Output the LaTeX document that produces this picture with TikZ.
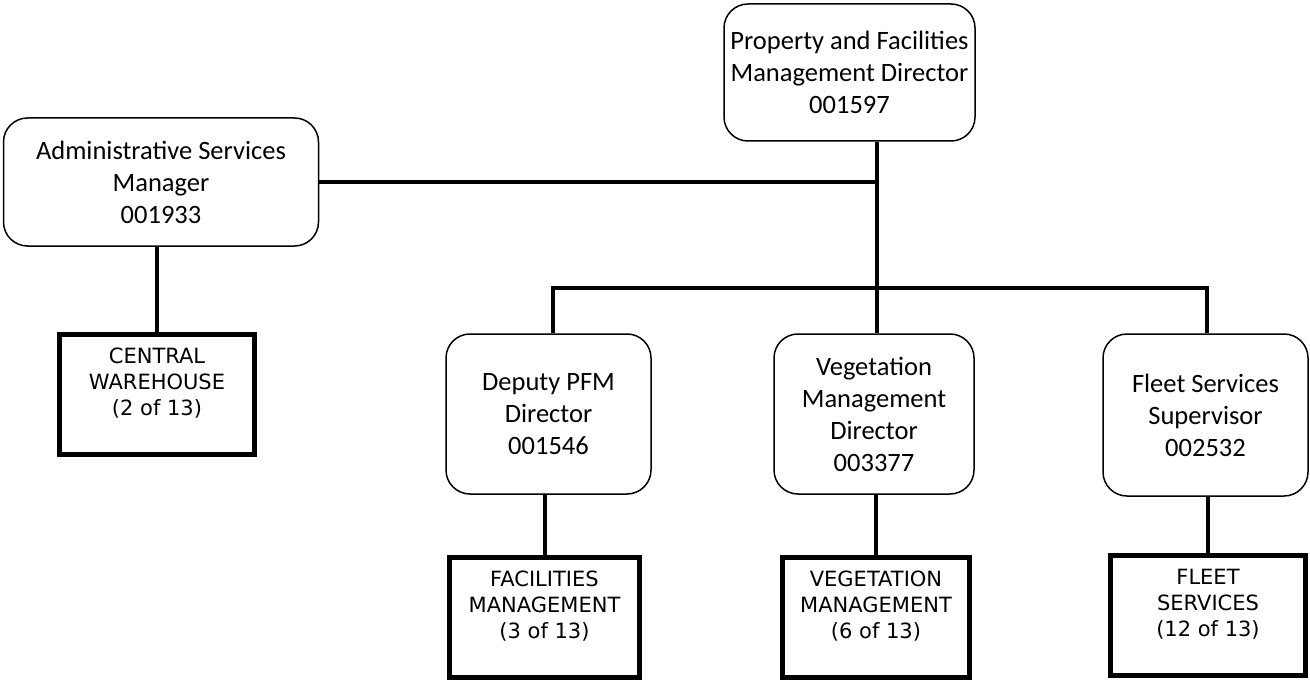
\documentclass[tikz,border=0pt]{standalone}
\usepackage{fontspec}
\setmainfont{Carlito}
\newfontfamily\unitfont{DejaVu Sans}
\begin{document}
\begin{tikzpicture}[x=1pt,y=-1pt,
  post/.style={draw,line width=1.5pt,rounded corners=24pt,align=center,
    font=\fontsize{26.5}{32}\selectfont},
  unit/.style={draw,line width=5pt,align=center,
    font=\unitfont\fontsize{21}{26}\selectfont},
  link/.style={line width=4pt}]
\useasboundingbox (0,0) rectangle (1310,682);
% job posts
\node[post,minimum width=251pt,minimum height=137pt] (pfm) at (849.5,72.5)
  {Property and Facilities\\Management Director\\001597};
\node[post,minimum width=315pt,minimum height=128pt] (asm) at (161,182)
  {Administrative Services\\Manager\\001933};
\node[post,minimum width=205pt,minimum height=160pt] (dep) at (548.5,414)
  {Deputy PFM\\Director\\001546};
\node[post,minimum width=200pt,minimum height=160pt] (veg) at (874,414)
  {Vegetation\\Management\\Director\\003377};
\node[post,minimum width=205pt,minimum height=162pt] (flt) at (1205.5,415)
  {Fleet Services\\Supervisor\\002532};
% units
\node[unit,minimum width=195pt,minimum height=120pt] (cw) at (157,394.5)
  {CENTRAL\\WAREHOUSE\\(2 of 13)\\\mbox{}};
\node[unit,minimum width=190pt,minimum height=120pt] (fac) at (544.5,617.5)
  {FACILITIES\\MANAGEMENT\\(3 of 13)\\\mbox{}};
\node[unit,minimum width=187pt,minimum height=120pt] (vgm) at (876,617.5)
  {VEGETATION\\MANAGEMENT\\(6 of 13)\\\mbox{}};
\node[unit,minimum width=195pt,minimum height=120pt] (fls) at (1208,615.5)
  {FLEET\\SERVICES\\(12 of 13)\\\mbox{}};
% lines
\coordinate (trunk) at (877,288);
\coordinate (busL) at (553,288);
\coordinate (busR) at (1207,288);
\draw[link] (pfm.south -| trunk) -- (veg.north -| trunk);
\draw[link] (asm.east) -- (asm.east -| trunk);
\draw[link] (dep.north -| busL) -- (busL) -- (busR) -- (flt.north -| busR);
\foreach \a/\b in {asm/cw,dep/fac,veg/vgm,flt/fls}
{ \draw[link] (\a.south -| \b) -- (\b.north); };
\end{tikzpicture}
\end{document}
